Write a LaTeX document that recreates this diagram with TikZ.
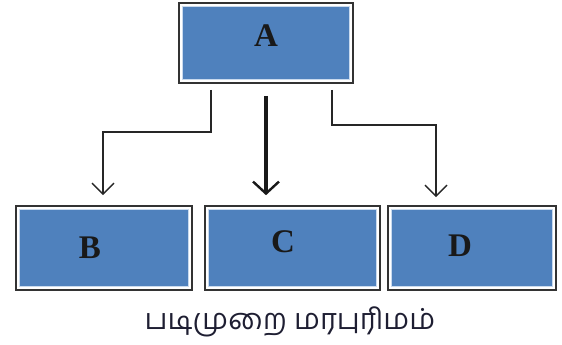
\documentclass[tikz,border=0pt]{standalone}
\usepackage{fontspec}
\setmainfont{Liberation Serif}
\newfontfamily\tamilfont[Script=Tamil]{Hind Madurai}
\usetikzlibrary{arrows.meta,calc}
\definecolor{boxblue}{HTML}{4F81BD}
\definecolor{innerline}{HTML}{C9DAEE}
\definecolor{frame}{HTML}{333333}
\definecolor{capcol}{HTML}{1E1E32}
\tikzset{
  boxnode/.style={draw=frame, line width=1.6pt, fill=white, inner sep=0pt,
    path picture={
      \fill[innerline] ($(path picture bounding box.south west)+(2.6pt,2.6pt)$) rectangle ($(path picture bounding box.north east)+(-2.6pt,-2.6pt)$);
      \fill[boxblue] ($(path picture bounding box.south west)+(3.6pt,3.6pt)$) rectangle ($(path picture bounding box.north east)+(-3.6pt,-3.6pt)$);
    }},
  letter/.style={font=\fontsize{33}{33}\selectfont\bfseries, text=black!90, inner sep=0pt},
  thinarrow/.style={draw=black!85, line width=1.4pt, -{Straight Barb[length=11pt,width=22pt,line width=1.4pt]}},
  thickarrow/.style={draw=black!90, line width=3.2pt, -{Straight Barb[length=12pt,width=26pt,line width=2.4pt]}},
}
\begin{document}
\begin{tikzpicture}[x=1pt,y=-1pt]
\useasboundingbox (0,0) rectangle (562,345);
\node[boxnode, minimum width=174pt, minimum height=80pt] (A) at (266,43) {};
\node[boxnode, minimum width=176pt, minimum height=84pt] (B) at (104,248) {};
\node[boxnode, minimum width=175pt, minimum height=84pt] (C) at (292.5,248) {};
\node[boxnode, minimum width=168pt, minimum height=84pt] (D) at (472,248) {};
\node[letter] (lA) at (266,36) {A};
\node[letter] (lB) at (90,248) {B};
\node[letter] (lC) at (283,242) {C};
\node[letter] (lD) at (460,246) {D};
\draw[thinarrow] ([xshift=-55pt,yshift=-6pt]A.south) -- ++(0,42) -| ([xshift=-1pt,yshift=10pt]B.north);
\draw[thickarrow] ([yshift=-12pt]A.south) -- ([yshift=10pt]A.south |- C.north);
\draw[thinarrow] ([xshift=66pt,yshift=-6pt]A.south) -- ++(0,35) -| ([xshift=-36pt,yshift=8pt]D.north);
\node[font=\tamilfont\fontsize{29}{29}\selectfont, text=capcol, inner sep=0pt] (cap) at (290,322) {படிமுறை மரபுரிமம்};
\end{tikzpicture}
\end{document}
